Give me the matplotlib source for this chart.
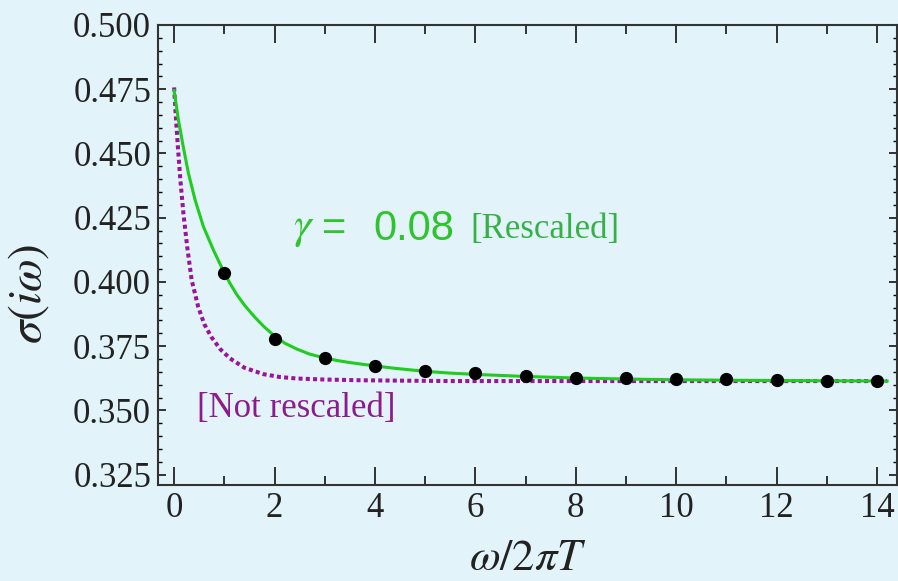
import numpy as np
import matplotlib
matplotlib.use("Agg")
import matplotlib.pyplot as plt
from matplotlib.ticker import MultipleLocator, FormatStrFormatter

plt.rcParams['mathtext.fontset'] = 'stix'
plt.rcParams['font.family'] = ['Liberation Serif', 'DejaVu Serif']

bg = '#e2f3fa'

# data points (omega / 2 pi T, sigma)
pts_x = [1, 2, 3, 4, 5, 6, 7, 8, 9, 10, 11, 12, 13, 14]
pts_y = [0.4034, 0.3778, 0.3702, 0.3673, 0.3652, 0.3645, 0.3633,
         0.3625, 0.3625, 0.3622, 0.3621, 0.3618, 0.3616, 0.3614]

# rescaled fit curve, gamma = 0.08
green_x = [0.0, 0.086, 0.186, 0.285, 0.418, 0.584, 0.783, 1.0, 1.12, 1.25,
           1.42, 1.61, 1.8, 1.98, 2.2, 2.44, 2.7, 3.0, 3.25, 3.5, 4.0, 4.43,
           5.0, 5.5, 6.0, 7.0, 8.0, 9.0, 10.0, 12.0, 14.2]
green_y = [0.4745, 0.4630, 0.4522, 0.4423, 0.4319, 0.4215, 0.4124, 0.4035,
           0.3992, 0.3950, 0.3905, 0.3862, 0.3824, 0.3793, 0.3762, 0.3739,
           0.3719, 0.3704, 0.3694, 0.3686, 0.3673, 0.3663, 0.3652, 0.3645,
           0.3640, 0.3632, 0.3626, 0.3622, 0.3619, 0.3616, 0.3614]

# not rescaled curve
purple_x = [0.0, 0.03, 0.075, 0.125, 0.185, 0.26, 0.35, 0.48, 0.6, 0.74,
            0.92, 1.115, 1.4, 1.78, 2.1, 2.44, 3.0, 3.77, 5.5, 14.2]
purple_y = [0.4757, 0.4656, 0.4526, 0.4396, 0.4267, 0.4137, 0.4007, 0.3903,
            0.3836, 0.3786, 0.3738, 0.3702, 0.3666, 0.3641, 0.3630, 0.3624,
            0.3620, 0.3617, 0.3614, 0.3614]

fig = plt.figure(figsize=(8.98, 5.81), dpi=100, facecolor=bg)
ax = fig.add_axes([0.176, 0.165, 0.823, 0.792], facecolor=bg)

ax.plot(green_x, green_y, color='#1fcc1f', lw=2.2, zorder=3)
ax.plot(purple_x, purple_y, color='#9a149a', lw=2.9,
        linestyle=(0, (1, 0.8)), zorder=2)
ax.plot(pts_x, pts_y, 'o', color='black', ms=8.5, zorder=4)

ax.set_xlim(-0.32, 14.4)
ax.set_ylim(0.3209, 0.5)

ax.xaxis.set_major_locator(MultipleLocator(2))
ax.xaxis.set_minor_locator(MultipleLocator(1))
ax.yaxis.set_major_locator(MultipleLocator(0.025))
ax.yaxis.set_minor_locator(MultipleLocator(0.005))
ax.yaxis.set_major_formatter(FormatStrFormatter('%.3f'))

for s in ax.spines.values():
    s.set_color('#333333')
    s.set_linewidth(1.5)

ax.tick_params(axis='x', which='major', direction='in', length=13, width=1.3,
               top=True, bottom=True, labelsize=25, pad=5, colors='#222222')
ax.tick_params(axis='x', which='minor', direction='in', length=6.5, width=1.1,
               top=True, bottom=True)
ax.tick_params(axis='y', which='major', direction='in', length=5.5, width=1.3,
               left=True, right=True, labelsize=25, pad=5, colors='#222222')
ax.tick_params(axis='y', which='minor', direction='in', length=3, width=1.0,
               left=True, right=True)

ax.set_xlabel(r'$\omega/2\pi T$', fontsize=32, color='#222222', labelpad=10)
ax.set_ylabel(r'$\sigma(i\omega)$', fontsize=34, color='#222222')
ax.yaxis.set_label_coords(-0.145, 0.415)

green_txt = '#2ec42e'
ax.text(2.37, 0.4205, r'$\gamma$', fontsize=32, color=green_txt,
        va='center', ha='left')
ax.text(2.95, 0.4205, '=', fontsize=30, color=green_txt,
        va='center', ha='left', family=['Liberation Sans', 'DejaVu Sans'])
ax.text(3.96, 0.4205, '0.08', fontsize=30, color=green_txt,
        va='center', ha='left', family=['Liberation Sans', 'DejaVu Sans'])
ax.text(5.9, 0.4205, '[Rescaled]', fontsize=25, color='#38b048',
        va='center', ha='left')
ax.text(0.46, 0.3509, '[Not rescaled]', fontsize=25, color='#8c1c8c',
        va='center', ha='left')

fig.savefig('out.png', dpi=100, facecolor=bg)
